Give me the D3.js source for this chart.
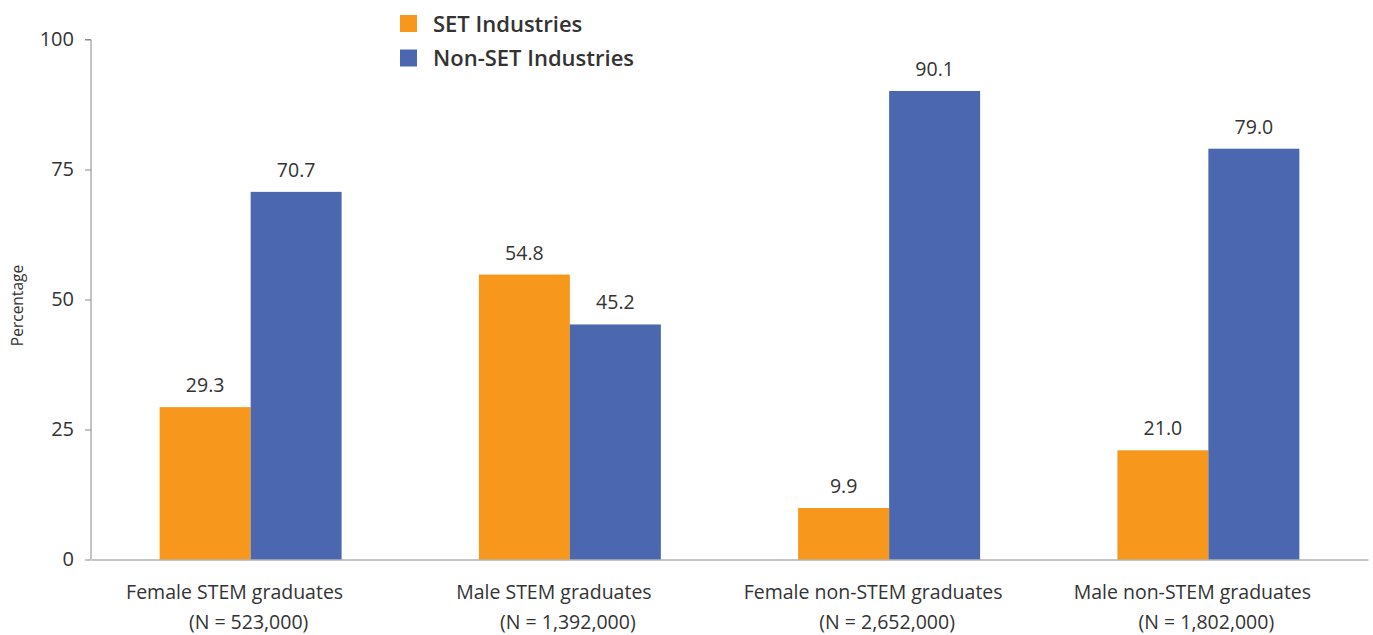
<!DOCTYPE html>
<html><head><meta charset="utf-8">
<script src="https://cdn.jsdelivr.net/npm/d3@7"></script>
<style>
html,body{margin:0;padding:0;background:#fff;}
text{font-family:"Open Sans","Noto Sans",sans-serif;fill:#333;}
</style></head>
<body><svg id="c" width="1373" height="635"></svg>
<script>
const categories = ["Female STEM graduates","Male STEM graduates","Female non-STEM graduates","Male non-STEM graduates"];
const categorySub = ["(N = 523,000)","(N = 1,392,000)","(N = 2,652,000)","(N = 1,802,000)"];
const seriesNames = ["SET Industries","Non-SET Industries"];
const setValues = [29.3, 54.8, 9.9, 21.0];
const nonSetValues = [70.7, 45.2, 90.1, 79.0];
const yTicks = [0, 25, 50, 75, 100];
const colors = ["#F7981D", "#4A67AF"];

const svg = d3.select("#c");
const mLeft = 91, mRight = 1368, mTop = 39.5, mBottom = 559.5;

const x0 = d3.scaleBand().domain(categories).range([mLeft, mRight]).paddingInner(0.43).paddingOuter(0.215);
const x1 = d3.scaleBand().domain(seriesNames).range([0, x0.bandwidth()]);
const y = d3.scaleLinear().domain([0, 100]).range([mBottom, mTop]);

const data = categories.map((c, i) => ({cat: c, vals: [setValues[i], nonSetValues[i]]}));

// bars
const g = svg.selectAll("g.grp").data(data).enter().append("g").attr("class","grp")
  .attr("transform", d => `translate(${x0(d.cat)},0)`);
g.selectAll("rect").data(d => d.vals.map((v, j) => ({v, s: seriesNames[j], j})))
  .enter().append("rect")
  .attr("x", d => x1(d.s)).attr("width", x1.bandwidth())
  .attr("y", d => y(d.v)).attr("height", d => y(0) - y(d.v))
  .attr("fill", d => colors[d.j]);
g.selectAll("text.val").data(d => d.vals.map((v, j) => ({v, s: seriesNames[j], j})))
  .enter().append("text").attr("class","val")
  .attr("x", d => x1(d.s) + x1.bandwidth()/2).attr("y", d => y(d.v) - 15)
  .attr("text-anchor","middle").style("font-size","19.5px")
  .text(d => d.v.toFixed(1));

// y axis
const yAxis = d3.axisLeft(y).tickValues(yTicks).tickSize(6).tickPadding(11);
const ya = svg.append("g").attr("transform", `translate(${mLeft},0)`).call(yAxis);
ya.select(".domain").attr("stroke","#8a8a8a").attr("d", `M-6,${mTop}H0V${mBottom}`);
ya.selectAll(".tick line").attr("stroke","#8a8a8a");
ya.selectAll(".tick text").style("font-size","20px").attr("fill","#333").style("font-family","'Open Sans',sans-serif");

// x axis line
const xAxis = d3.axisBottom(x0).tickSize(0).tickFormat("");
const xa = svg.append("g").attr("transform", `translate(0,${mBottom})`).call(xAxis);
xa.select(".domain").attr("stroke","#8a8a8a");

// x labels
categories.forEach((c, i) => {
  const cx = x0(c) + x0.bandwidth()/2;
  svg.append("text").attr("x", cx - 16).attr("y", 599).attr("text-anchor","middle")
    .style("font-size","19.5px").text(c);
  svg.append("text").attr("x", cx - 2).attr("y", 629).attr("text-anchor","middle")
    .style("font-size","19.5px").text(categorySub[i]);
});

// y title
svg.append("text").attr("transform", `translate(23,${(mTop+mBottom)/2+6}) rotate(-90)`)
  .attr("text-anchor","middle").style("font-size","15.5px").attr("fill","#222").text("Percentage");

// legend
const lg = svg.selectAll("g.leg").data(seriesNames).enter().append("g").attr("class","leg")
  .attr("transform", (d, i) => `translate(400,${15 + i*34.5})`);
lg.append("rect").attr("width",17).attr("height",17).attr("fill", (d, i) => colors[i]);
lg.append("text").attr("x",33).attr("y",16.5).style("font-size","22px").style("font-weight","600")
  .attr("fill","#1a1a1a").text(d => d);
</script></body></html>
